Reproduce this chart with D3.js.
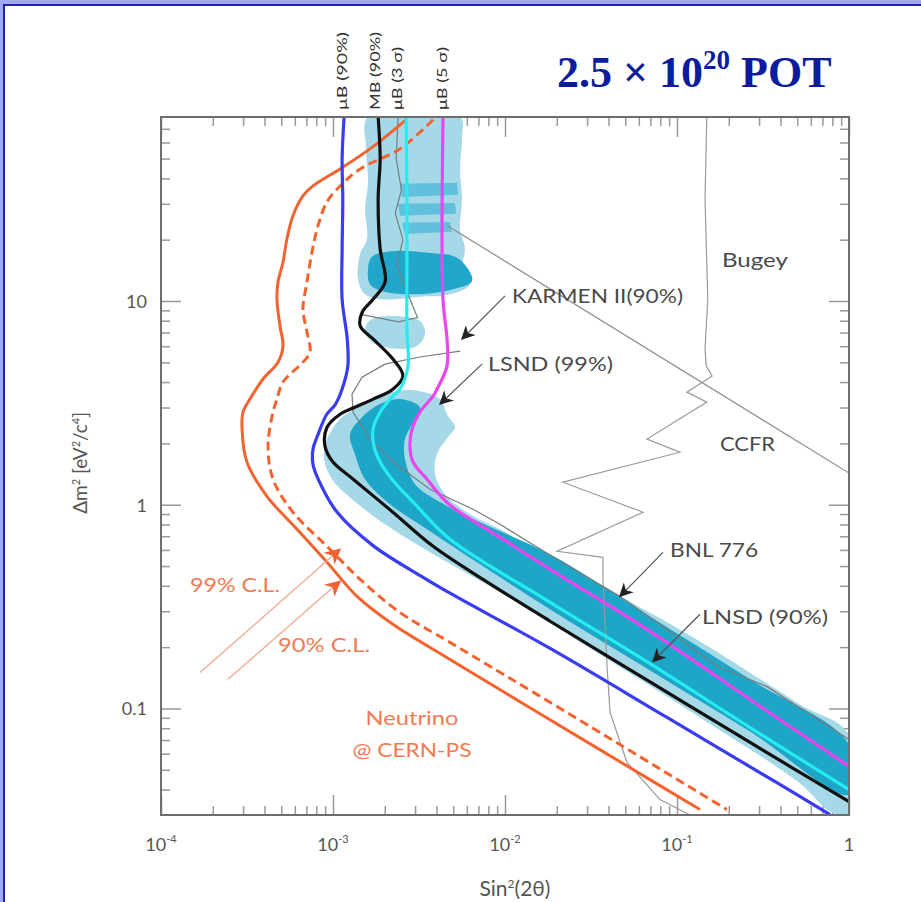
<!DOCTYPE html>
<html><head><meta charset="utf-8">
<script src="https://cdn.jsdelivr.net/npm/d3@7"></script>
<style>
html,body{margin:0;padding:0;background:#a3a8f2;}
svg{display:block;}
</style></head><body>
<svg id="chart" width="921" height="902"></svg>
<script>
// ---------- data: points are [sin²(2θ), Δm² in eV²] ----------
const xTicks = [1e-4, 1e-3, 1e-2, 1e-1, 1];
const xTickLabels = [["10", "-4"], ["10", "-3"], ["10", "-2"], ["10", "-1"], ["1", ""]];
const yTicks = [0.1, 1, 10];
const yTickLabels = ["0.1", "1", "10"];

// sensitivity curves
const muB90 = [[1.16e-3,80],[1.13e-3,50],[1.14e-3,31.7],[1.13e-3,18],[1.13e-3,10.2],[1.21e-3,6.5],[1.22e-3,4.8],[1.13e-3,3.7],[1.03e-3,3.1],[9.2e-4,2.78],[8.2e-4,2.22],[7.65e-4,1.87],[7.65e-4,1.58],[8.2e-4,1.335],[1.055e-3,0.92],[1.71e-3,0.63],[3.34e-3,0.44],[4.79e-3,0.368],[1.83e-2,0.197],[8.75e-2,0.0903],[0.381,0.0432],[0.776,0.0301]];
const mb90 = [[1.83e-3,80],[1.88e-3,50],[1.83e-3,31.7],[1.88e-3,18],[2.01e-3,12.4],[1.71e-3,10.2],[1.48e-3,8.83],[1.44e-3,7.54],[1.71e-3,6.51],[2.23e-3,5.19],[2.55e-3,4.28],[2.23e-3,3.69],[1.71e-3,3.30],[1.34e-3,3.01],[1.10e-3,2.78],[9.23e-4,2.40],[8.98e-4,1.94],[1.0e-3,1.62],[1.31e-3,1.335],[2.23e-3,0.919],[3.82e-3,0.625],[7.45e-3,0.43],[1.83e-2,0.268],[6.97e-2,0.135],[0.266,0.0681],[1.0,0.0349]];
const muB3s = [[2.66e-3,80],[2.69e-3,31.7],[2.69e-3,14.9],[2.69e-3,7.04],[2.73e-3,4.79],[2.45e-3,3.69],[2.23e-3,3.41],[1.88e-3,2.85],[1.71e-3,2.35],[1.73e-3,1.94],[1.88e-3,1.62],[2.20e-3,1.335],[3.0e-3,1.006],[4.79e-3,0.677],[1.83e-2,0.332],[6.97e-2,0.166],[0.266,0.0806],[1.0,0.04]];
const muB5s = [[4.36e-3,80],[4.36e-3,10.2],[4.6e-3,6.51],[4.6e-3,4.79],[4.02e-3,3.69],[3.82e-3,3.41],[3.2e-3,2.85],[2.88e-3,2.35],[2.8e-3,1.94],[2.92e-3,1.62],[3.52e-3,1.335],[4.72e-3,1.006],[9.35e-3,0.692],[1.83e-2,0.482],[6.97e-2,0.239],[0.266,0.1107],[1.0,0.0519]];

// Neutrino @ CERN-PS limits
const cern99 = [[2.66e-3,77.5],[1.64e-3,55.8],[1.10e-3,44.5],[7.65e-4,36.7],[6.69e-4,32.8],[5.85e-4,26.2],[5.40e-4,20.2],[5.12e-4,15.5],[4.79e-4,12.4],[4.72e-4,10.2],[4.92e-4,7.54],[5.12e-4,6.01],[4.79e-4,5.01],[3.92e-4,4.14],[3.29e-4,3.30],[3.00e-4,2.85],[2.96e-4,2.35],[3.16e-4,1.62],[4.13e-4,1.10],[6.18e-4,0.758],[9.23e-4,0.522],[1.38e-3,0.355],[2.23e-3,0.259],[4.79e-3,0.174],[1.66e-2,0.0924],[4.85e-2,0.0537],[0.136,0.0319]];
const cern90 = [[3.82e-3,77.5],[2.45e-3,55.8],[1.44e-3,44.5],[1.10e-3,36.7],[9.23e-4,30.7],[8.18e-4,23.4],[7.55e-4,17.4],[7.06e-4,12.4],[6.69e-4,9.13],[7.06e-4,7.04],[7.35e-4,5.62],[6.69e-4,5.01],[5.12e-4,4.0],[4.72e-4,3.3],[4.48e-4,2.85],[4.19e-4,1.94],[4.48e-4,1.335],[5.85e-4,0.919],[9.23e-4,0.625],[1.44e-3,0.43],[2.45e-3,0.296],[4.79e-3,0.211],[2.29e-2,0.0956],[0.195,0.0319]];

// LSND allowed regions
const lsndLightLow = [[1.098e-3,2.63],[9.23e-4,2.10],[8.87e-4,1.67],[9.87e-4,1.335],[1.29e-3,1.064],[2.006e-3,0.802],[3.664e-3,0.584],[9.35e-3,0.372],[3.57e-2,0.184],[0.136,0.0903],[0.519,0.0428],[0.776,0.0312],[1,0.03],[1,0.0745],[0.519,0.1046],[0.136,0.2134],[4.66e-2,0.355],[1.83e-2,0.54],[9.35e-3,0.758],[6.26e-3,0.898],[4.479e-3,1.126],[3.917e-3,1.41],[4.02e-3,1.77],[4.662e-3,2.15],[5.12e-3,2.40],[4.6e-3,2.78],[4.188e-3,3.30],[3.2e-3,3.61],[2.294e-3,3.61],[1.754e-3,3.30],[1.342e-3,2.95]];
const lsndDarkLow = [[1,0.0666],[0.266,0.139],[6.97e-2,0.283],[1.83e-2,0.571],[7.16e-3,0.82],[4.188e-3,1.03],[3.0e-3,1.26],[2.622e-3,1.67],[2.622e-3,2.10],[3.0e-3,2.63],[3.2e-3,3.01],[2.452e-3,3.30],[1.877e-3,3.12],[1.475e-3,2.69],[1.256e-3,2.22],[1.342e-3,1.77],[1.535e-3,1.335],[2.145e-3,1.006],[3.664e-3,0.741],[7.16e-3,0.51],[1.83e-2,0.306],[6.97e-2,0.1537],[0.266,0.0771],[1,0.0378]];
const lsndLightHigh = [[1.598e-3,80],[1.556e-3,55.8],[1.598e-3,38.5],[1.535e-3,28.3],[1.577e-3,20.2],[1.436e-3,17.0],[1.397e-3,12.8],[1.535e-3,10.8],[1.877e-3,10.2],[3.2e-3,10.5],[4.79e-3,10.8],[6.26e-3,12.1],[5.62e-3,14.4],[5.85e-3,18.0],[5.48e-3,22.6],[5.62e-3,31.7],[5.48e-3,44.5],[5.62e-3,62.5],[5.48e-3,80]];
const lsndLightPatch = [[1.685e-3,8.16],[3.2e-3,7.98],[3.426e-3,6.88],[3.0e-3,5.94],[1.754e-3,6.15],[1.535e-3,7.12]];
const lsndStripes = [
  [[2.45e-3,37.6],[5.27e-3,38.0],[5.33e-3,33.2],[2.52e-3,32.4]],
  [[2.39e-3,30.0],[5.12e-3,30.3],[5.2e-3,26.8],[2.45e-3,26.2]],
  [[2.52e-3,24.2],[4.79e-3,24.4],[4.9e-3,21.9],[2.62e-3,21.3]]
];
const lsndDarkHigh = [[1.685e-3,16.5],[2.294e-3,17.6],[3.664e-3,17.2],[5.12e-3,16.5],[6.09e-3,14.4],[6.43e-3,12.5],[5.12e-3,11.5],[3.2e-3,10.8],[2.006e-3,11.1],[1.641e-3,12.1],[1.598e-3,14.4]];

// other experiments' exclusion limits
const ccfr = [[4.6e-3,23.5],[1,1.43]];
const bugey = [[0.149,80],[0.1455,31.7],[0.151,10.2],[0.1455,5.81],[0.148,4.79],[0.160,4.28],[0.114,3.57],[0.149,3.19],[0.0669,2.10],[0.104,1.81],[0.0217,1.29],[0.0634,0.919],[0.0201,0.591],[0.0371,0.552],[0.0371,0.43],[0.0381,0.274],[0.0392,0.161],[0.0408,0.0956],[0.0512,0.0543],[0.0796,0.0357],[0.119,0.03]];
const bnl776 = [[1,0.0704],[0.334,0.128],[0.171,0.161],[0.0875,0.244],[0.0466,0.355],[0.0209,0.528],[9.35e-3,0.802],[6.52e-3,0.95],[3.664e-3,1.19],[2.233e-3,1.62],[1.641e-3,2.10],[1.307e-3,2.85],[1.29e-3,3.49],[1.475e-3,4.23],[2.006e-3,4.90],[3.2e-3,5.31],[5.48e-3,5.68]];
const karmen = [[2.39e-3,80],[2.33e-3,50],[2.5e-3,35],[2.3e-3,27],[2.55e-3,20],[2.35e-3,15],[2.7e-3,11],[3.1e-3,8.3],[2.4e-3,7.9],[1.45e-3,8.6]];

// annotation anchors (data coords)
const topLabels = [
  {text: "μB (90%)", x: 1.127e-3, len: 78},
  {text: "MB (90%)", x: 1.754e-3, len: 78},
  {text: "μB (3 σ)", x: 2.355e-3, len: 63},
  {text: "μB (5 σ)", x: 4.30e-3, len: 63}
];
const grayNotes = [
  {text: "Bugey", x: 0.1826, y: 14.7, len: 66},
  {text: "KARMEN II(90%)", x: 0.01098, y: 9.78, len: 171},
  {text: "LSND (99%)", x: 7.96e-3, y: 4.53, len: 125},
  {text: "CCFR", x: 0.178, y: 1.83, len: 55},
  {text: "BNL 776", x: 0.0911, y: 0.552, len: 88},
  {text: "LNSD (90%)", x: 0.1397, y: 0.259, len: 126}
];
const grayArrows = [
  [[0.01, 10.6], [5.62e-3, 6.51]],
  [[7.35e-3, 4.90], [4.19e-3, 3.12]],
  [[0.0829, 0.584], [0.0466, 0.355]],
  [[0.136, 0.290], [0.0725, 0.170]]
];
const orangeNotes = [
  {text: "99% C.L.", x: 1.475e-4, y: 0.372, len: 90, anchor: "start"},
  {text: "90% C.L.", x: 4.79e-4, y: 0.1884, len: 92, anchor: "start"},
  {text: "Neutrino", x: 2.88e-3, y: 0.0834, len: 93, anchor: "middle"},
  {text: "@ CERN-PS", x: 2.88e-3, y: 0.0581, len: 119, anchor: "middle"}
];
const orangeArrows = [
  [[1.685e-4, 0.150], [1.098e-3, 0.604]],
  [[2.45e-4, 0.139], [1.098e-3, 0.421]]
];

// ---------- layout ----------
const W = 921, H = 902;
const M = {left: 161, right: 849, top: 117, bottom: 815};
const x = d3.scaleLog().domain([1e-4, 1]).range([M.left, M.right]);
const y = d3.scaleLog().domain([0.03, 80]).range([M.bottom, M.top]);
const FONT = "Lato, 'Open Sans', sans-serif";

const svg = d3.select("#chart");

// slide background and white panel
svg.append("rect").attr("width", W).attr("height", H).attr("fill", "#a3a8f2");
svg.append("rect").attr("x", 4).attr("y", 5).attr("width", W + 10).attr("height", H + 10)
  .attr("fill", "#fff").attr("stroke", "#2323a6").attr("stroke-width", 2);

const defs = svg.append("defs");
defs.append("clipPath").attr("id", "plotClip").append("rect")
  .attr("x", M.left).attr("y", M.top).attr("width", M.right - M.left).attr("height", M.bottom - M.top);
defs.append("marker").attr("id", "headGray").attr("viewBox", "0 0 10 10")
  .attr("refX", 9).attr("refY", 5).attr("markerWidth", 14).attr("markerHeight", 14)
  .attr("markerUnits", "userSpaceOnUse").attr("orient", "auto")
  .append("path").attr("d", "M0,0 L10,5 L0,10 L3,5 Z").attr("fill", "#222");
defs.append("marker").attr("id", "headOrange").attr("viewBox", "0 0 10 10")
  .attr("refX", 9).attr("refY", 5).attr("markerWidth", 16).attr("markerHeight", 16)
  .attr("markerUnits", "userSpaceOnUse").attr("orient", "auto")
  .append("path").attr("d", "M0,0 L10,5 L0,10 L3,5 Z").attr("fill", "#f0622f");

// ---------- ticks ----------
const minorX = [];
for (let e = -4; e < 0; e++) for (let k = 2; k < 10; k++) minorX.push(k * Math.pow(10, e));
const minorY = [];
for (let e = -2; e < 2; e++) for (let k = 2; k < 10; k++) {
  const v = k * Math.pow(10, e);
  if (v > 0.03 && v < 80) minorY.push(v);
}
function ticks(axisFn, scale, vals, size, tr) {
  svg.append("g").attr("transform", tr)
    .call(axisFn(scale).tickValues(vals).tickSize(size).tickFormat(""))
    .call(g => {
      g.select(".domain").remove();
      g.selectAll("line").attr("stroke", "#9a9a9a").attr("stroke-width", 1.5);
    });
}
ticks(d3.axisBottom, x, minorX, -9, `translate(0,${M.bottom})`);
ticks(d3.axisBottom, x, xTicks, -20, `translate(0,${M.bottom})`);
ticks(d3.axisTop, x, minorX, -9, `translate(0,${M.top})`);
ticks(d3.axisTop, x, xTicks, -20, `translate(0,${M.top})`);
ticks(d3.axisLeft, y, minorY, -9, `translate(${M.left},0)`);
ticks(d3.axisLeft, y, yTicks, -20, `translate(${M.left},0)`);
ticks(d3.axisRight, y, minorY, -9, `translate(${M.right},0)`);
ticks(d3.axisRight, y, yTicks, -20, `translate(${M.right},0)`);

// ---------- plot content ----------
const plot = svg.append("g").attr("clip-path", "url(#plotClip)");
const line = d3.line().x(d => x(d[0])).y(d => y(d[1])).curve(d3.curveCatmullRom.alpha(0.5));
const area = d3.line().x(d => x(d[0])).y(d => y(d[1])).curve(d3.curveCatmullRomClosed.alpha(0.5));
const poly = d3.line().x(d => x(d[0])).y(d => y(d[1])).curve(d3.curveLinearClosed);

// LSND regions
plot.append("path").attr("d", area(lsndLightHigh)).attr("fill", "#a6d9e8");
plot.append("path").attr("d", area(lsndLightPatch)).attr("fill", "#a6d9e8");
plot.append("path").attr("d", area(lsndLightLow)).attr("fill", "#a6d9e8");
lsndStripes.forEach(s => plot.append("path").attr("d", poly(s)).attr("fill", "#3cb2d4").attr("opacity", 0.65));
plot.append("path").attr("d", area(lsndDarkHigh)).attr("fill", "#22a6ca");
plot.append("path").attr("d", area(lsndDarkLow)).attr("fill", "#1ea6c9");

// thin exclusion limits
const thin = (data, c) => plot.append("path").attr("d", d3.line().x(d => x(d[0])).y(d => y(d[1]))(data))
  .attr("fill", "none").attr("stroke", c).attr("stroke-width", 1.2);
thin(ccfr, "#8c8c8c");
thin(bugey, "#9a9a9a");
thin(bnl776, "#7a7a7a");
thin(karmen, "#6f7f86");

// orange CERN-PS limits
plot.append("path").attr("d", line(cern99)).attr("fill", "none").attr("stroke", "#f2642f").attr("stroke-width", 3);
plot.append("path").attr("d", line(cern90)).attr("fill", "none").attr("stroke", "#f2642f").attr("stroke-width", 3)
  .attr("stroke-dasharray", "9,5");

// sensitivity curves
const curve = (data, c) => plot.append("path").attr("d", line(data)).attr("fill", "none")
  .attr("stroke", c).attr("stroke-width", 3.2).attr("stroke-linejoin", "round");
curve(muB90, "#3a3cf0");
curve(mb90, "#111111");
curve(muB3s, "#25ecf0");
curve(muB5s, "#ea45ef");

// frame
svg.append("rect").attr("x", M.left).attr("y", M.top).attr("width", M.right - M.left).attr("height", M.bottom - M.top)
  .attr("fill", "none").attr("stroke", "#6e6e6e").attr("stroke-width", 2);

// ---------- labels ----------
const xl = svg.append("g").attr("font-family", FONT).attr("fill", "#555").attr("font-size", 18);
xTickLabels.forEach((lab, i) => {
  const t = xl.append("text").attr("x", x(xTicks[i])).attr("y", 851).attr("text-anchor", "middle");
  t.append("tspan").text(lab[0]);
  if (lab[1]) t.append("tspan").attr("font-size", 11).attr("dy", -8).text(lab[1]);
});
yTickLabels.forEach((lab, i) => {
  xl.append("text").attr("x", M.left - 14).attr("y", y(yTicks[i]) + 7).attr("text-anchor", "end").text(lab);
});
// axis titles
const xt = xl.append("text").attr("x", 515).attr("y", 896).attr("text-anchor", "middle").attr("font-size", 21);
xt.append("tspan").text("Sin");
xt.append("tspan").attr("font-size", 12).attr("dy", -8).text("2");
xt.append("tspan").attr("dy", 8).text("(2θ)");
const yt = xl.append("text").attr("transform", `translate(87,${(y(1) + y(10)) / 2 + 60}) rotate(-90)`)
  .attr("text-anchor", "middle").attr("font-size", 19);
yt.append("tspan").text("Δm");
yt.append("tspan").attr("font-size", 11).attr("dy", -7).text("2");
yt.append("tspan").attr("dy", 7).text(" [eV");
yt.append("tspan").attr("font-size", 11).attr("dy", -7).text("2");
yt.append("tspan").attr("dy", 7).text("/c");
yt.append("tspan").attr("font-size", 11).attr("dy", -7).text("4");
yt.append("tspan").attr("dy", 7).text("]");

// rotated curve labels above the frame
topLabels.forEach(d => {
  svg.append("text").attr("transform", `translate(${x(d.x) + 5},110) rotate(-90)`)
    .attr("font-family", FONT).attr("font-size", 13).attr("fill", "#333")
    .attr("textLength", d.len).attr("lengthAdjust", "spacingAndGlyphs").text(d.text);
});

// annotations for other experiments
grayNotes.forEach(d => {
  svg.append("text").attr("x", x(d.x)).attr("y", y(d.y)).attr("font-family", FONT).attr("font-size", 19)
    .attr("fill", "#4a4a4a").attr("textLength", d.len).attr("lengthAdjust", "spacingAndGlyphs").text(d.text);
});
grayArrows.forEach(a => {
  svg.append("line").attr("x1", x(a[0][0])).attr("y1", y(a[0][1])).attr("x2", x(a[1][0])).attr("y2", y(a[1][1]))
    .attr("stroke", "#555").attr("stroke-width", 1.2).attr("marker-end", "url(#headGray)");
});
orangeNotes.forEach(d => {
  svg.append("text").attr("x", x(d.x)).attr("y", y(d.y)).attr("text-anchor", d.anchor)
    .attr("font-family", FONT).attr("font-size", 19).attr("fill", "#f07a52")
    .attr("textLength", d.len).attr("lengthAdjust", "spacingAndGlyphs").text(d.text);
});
orangeArrows.forEach(a => {
  svg.append("line").attr("x1", x(a[0][0])).attr("y1", y(a[0][1])).attr("x2", x(a[1][0])).attr("y2", y(a[1][1]))
    .attr("stroke", "#f3a890").attr("stroke-width", 1.3).attr("marker-end", "url(#headOrange)");
});

// title
const title = svg.append("text").attr("x", 557).attr("y", 87)
  .attr("font-family", "'Liberation Serif', 'Times New Roman', serif").attr("font-weight", "bold")
  .attr("font-size", 44).attr("fill", "#0c1c9c");
title.append("tspan").text("2.5 × 10");
title.append("tspan").attr("font-size", 27).attr("dy", -18).text("20");
title.append("tspan").attr("dy", 18).text(" POT");
</script>
</body></html>
